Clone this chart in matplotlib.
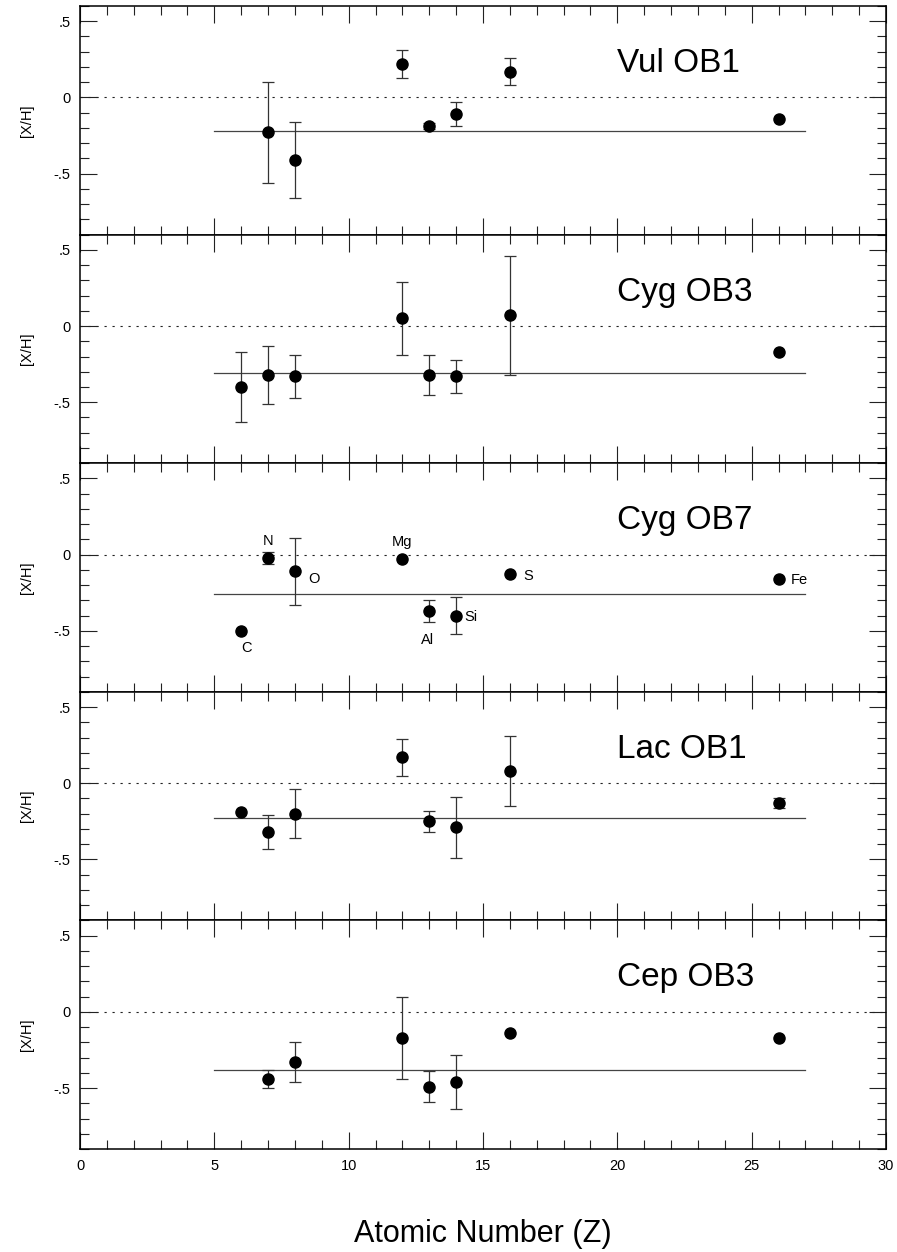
import numpy as np
import matplotlib
matplotlib.use("Agg")
import matplotlib.pyplot as plt
from matplotlib.ticker import MultipleLocator, FixedLocator, FixedFormatter

plt.rcParams['font.family'] = ['Liberation Sans', 'DejaVu Sans']

nan = np.nan

# Association names, one per panel
associations = ["Vul OB1", "Cyg OB3", "Cyg OB7", "Lac OB1", "Cep OB3"]

# Vul OB1
vul_z = [7, 8, 12, 13, 14, 16, 26]
vul_xh = [-0.23, -0.41, 0.22, -0.19, -0.11, 0.17, -0.14]
vul_err = [0.33, 0.25, 0.09, 0.02, 0.08, 0.09, nan]
vul_mean = -0.22

# Cyg OB3
cyg3_z = [6, 7, 8, 12, 13, 14, 16, 26]
cyg3_xh = [-0.40, -0.32, -0.33, 0.05, -0.32, -0.33, 0.07, -0.17]
cyg3_err = [0.23, 0.19, 0.14, 0.24, 0.13, 0.11, 0.39, nan]
cyg3_mean = -0.31

# Cyg OB7
cyg7_z = [6, 7, 8, 12, 13, 14, 16, 26]
cyg7_xh = [-0.50, -0.02, -0.11, -0.03, -0.37, -0.40, -0.13, -0.16]
cyg7_err = [nan, 0.04, 0.22, nan, 0.07, 0.12, nan, nan]
cyg7_mean = -0.26
cyg7_elements = ["C", "N", "O", "Mg", "Al", "Si", "S", "Fe"]

# Lac OB1
lac_z = [6, 7, 8, 12, 13, 14, 16, 26]
lac_xh = [-0.19, -0.32, -0.20, 0.17, -0.25, -0.29, 0.08, -0.13]
lac_err = [nan, 0.11, 0.16, 0.12, 0.07, 0.20, 0.23, 0.03]
lac_mean = -0.23

# Cep OB3
cep_z = [7, 8, 12, 13, 14, 16, 26]
cep_xh = [-0.44, -0.33, -0.17, -0.49, -0.46, -0.14, -0.17]
cep_err = [0.06, 0.13, 0.27, 0.10, 0.18, nan, nan]
cep_mean = -0.38

panels = [
    (vul_z, vul_xh, vul_err, vul_mean),
    (cyg3_z, cyg3_xh, cyg3_err, cyg3_mean),
    (cyg7_z, cyg7_xh, cyg7_err, cyg7_mean),
    (lac_z, lac_xh, lac_err, lac_mean),
    (cep_z, cep_xh, cep_err, cep_mean),
]

# Element label placement around each Cyg OB7 point: (dx px, dy px, ha)
label_offsets = {
    "C": (5.6, -21.4, "center"),
    "N": (0.0, 12.6, "center"),
    "O": (13.0, -11.6, "left"),
    "Mg": (0.0, 13.0, "center"),
    "Al": (-1.4, -33.0, "center"),
    "Si": (8.4, -5.7, "left"),
    "S": (13.6, -5.7, "left"),
    "Fe": (12.6, -5.3, "left"),
}

W, H = 897, 1252
fig = plt.figure(figsize=(W / 100, H / 100), dpi=100)

left_px, right_px = 80, 886
top_px, bottom_px = 6, 1149
panel_h = (bottom_px - top_px) / len(panels)

axes = []
for i, (z, xh, err, mean) in enumerate(panels):
    y_top = top_px + i * panel_h
    ax = fig.add_axes([left_px / W, 1 - (y_top + panel_h) / H,
                       (right_px - left_px) / W, panel_h / H])
    axes.append(ax)
    ax.set_xlim(0, 30)
    ax.set_ylim(-0.9, 0.6)

    # Solar reference and mean abundance
    ax.plot([0, 30], [0, 0], color='#222222', lw=0.8, dashes=(2.0, 5.2))
    ax.plot([5, 27], [mean, mean], color='#444444', lw=0.9)

    ax.errorbar(z, xh, yerr=err, fmt='none', ecolor='#333333',
                elinewidth=0.9, capsize=4.3, capthick=0.9)
    ax.plot(z, xh, 'o', color='black', markersize=8, zorder=5)

    ax.text(20, 0.167, associations[i], fontsize=24, ha='left', va='baseline')

    ax.set_ylabel("[X/H]", fontsize=10.5, labelpad=14)

    ax.xaxis.set_major_locator(MultipleLocator(5))
    ax.xaxis.set_minor_locator(MultipleLocator(1))
    ax.yaxis.set_major_locator(FixedLocator([-0.5, 0, 0.5]))
    ax.yaxis.set_major_formatter(FixedFormatter(["-.5", "0", ".5"]))
    ax.yaxis.set_minor_locator(MultipleLocator(0.1))
    ax.tick_params(which='both', direction='in', top=True, right=True,
                   width=0.8, color='#222222', labelsize=10.5, pad=7)
    ax.tick_params(which='major', length=12)
    ax.tick_params(which='minor', length=6.5)
    for sp in ax.spines.values():
        sp.set_linewidth(1.1)
    if i < len(panels) - 1:
        ax.tick_params(labelbottom=False)

    if i == 2:
        for zz, yy, el in zip(z, xh, cyg7_elements):
            dx, dy, ha = label_offsets[el]
            ax.annotate(el, (zz, yy), xytext=(dx, dy), textcoords='offset pixels',
                        ha=ha, va='baseline', fontsize=10.5)

fig.align_ylabels(axes)
fig.text((left_px + right_px) / 2 / W, 1 - 1241.7 / H, "Atomic Number (Z)",
         fontsize=22, ha='center', va='baseline')

fig.savefig("out.png", dpi=100)
